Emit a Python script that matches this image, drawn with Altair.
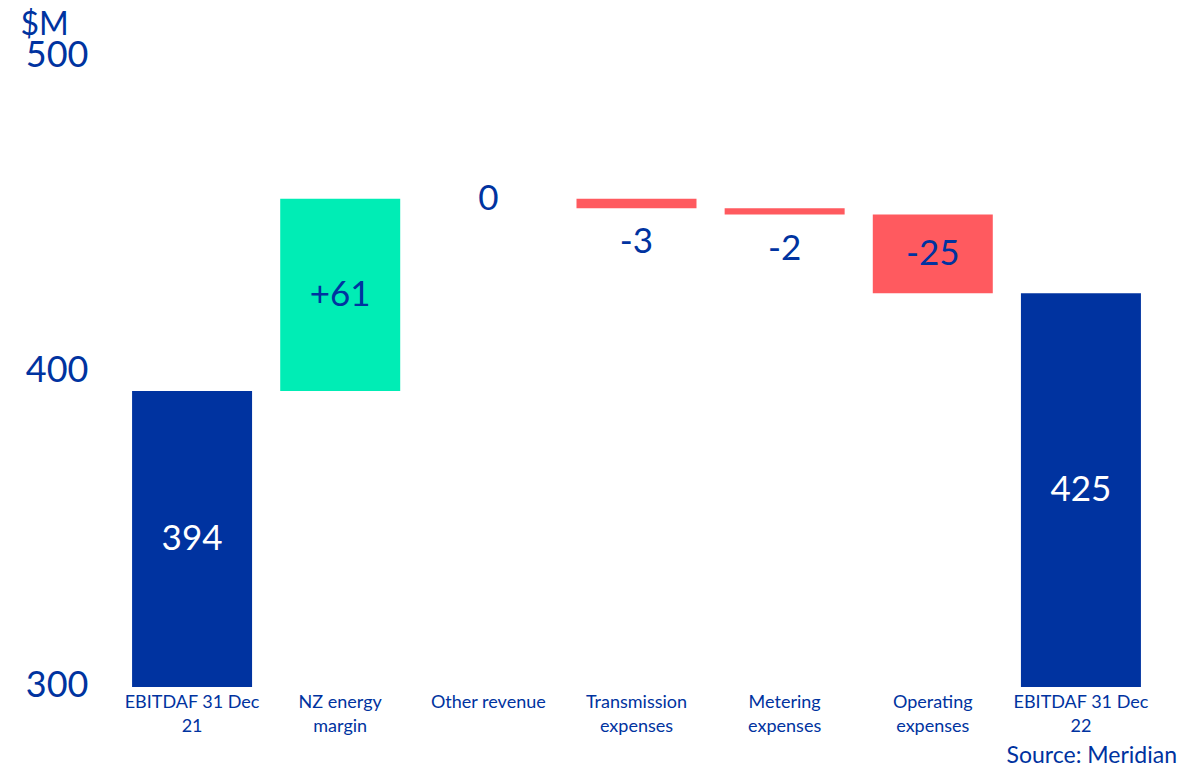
import altair as alt
import pandas as pd

categories = ["EBITDAF 31 Dec\n21", "NZ energy\nmargin", "Other revenue",
              "Transmission\nexpenses", "Metering\nexpenses", "Operating\nexpenses",
              "EBITDAF 31 Dec\n22"]
amounts = [394, 61, 0, -3, -2, -25, 425]
kinds = ["total", "increase", "increase", "decrease", "decrease", "decrease", "total"]
value_labels = ["394", "+61", "0", "-3", "-2", "-25", "425"]
y_ticks = [300, 400, 500]
y_domain = [300, 500]
source_text = ["Source: Meridian"]

NAVY = "#0033A0"
GREEN = "#00EDB5"
RED = "#FF5A5F"
FONT = "Lato"
W, H = 1037, 630

starts, ends = [], []
running = 0
for a, k in zip(amounts, kinds):
    if k == "total":
        starts.append(0)
        ends.append(a)
        running = a
    else:
        starts.append(running)
        running += a
        ends.append(running)

df = pd.DataFrame({
    "category": categories,
    "start": starts,
    "end": ends,
    "kind": kinds,
    "label": value_labels,
    "amount": amounts,
})

yscale = alt.Scale(domain=y_domain, nice=False, zero=False)
xenc = alt.X(
    "category:N", sort=categories,
    scale=alt.Scale(paddingInner=0.19, paddingOuter=0.095),
    axis=alt.Axis(title=None, labelExpr="split(datum.label, '\\n')", labelAngle=0,
                  labelFontSize=18, labelLineHeight=24, labelColor=NAVY, labelFont=FONT,
                  labelPadding=6, domain=False, ticks=False, grid=False),
)
yaxis = alt.Axis(values=y_ticks, title="$M", grid=False, domain=False, ticks=False,
                 labelFontSize=36, labelColor=NAVY, labelFont=FONT, labelPadding=30,
                 labelOffset=-2,
                 titleAngle=0, titleAlign="left", titleBaseline="alphabetic",
                 titleX=-98, titleY=-23, titleFontSize=32, titleColor=NAVY,
                 titleFont=FONT, titleFontWeight="normal")

base = alt.Chart(df).encode(x=xenc)

bars = base.mark_bar(clip=True).encode(
    y=alt.Y("start:Q", scale=yscale, axis=yaxis),
    y2="end:Q",
    color=alt.Color("kind:N", scale=alt.Scale(domain=["total", "increase", "decrease"],
                                              range=[NAVY, GREEN, RED]), legend=None),
)

txt = base.transform_calculate(
    mid=f"(max(datum.start, {y_domain[0]}) + datum.end) / 2",
    low="min(datum.start, datum.end)",
)

inside = txt.transform_filter("abs(datum.amount) >= 10 || datum.amount == 0").mark_text(
    fontSize=35, font=FONT, baseline="middle"
).encode(
    y=alt.Y("mid:Q", scale=yscale, axis=yaxis),
    text="label:N",
    color=alt.Color("kind:N", scale=alt.Scale(domain=["total", "increase", "decrease"],
                                              range=["#FFFFFF", NAVY, NAVY]), legend=None),
)

below = txt.transform_filter("abs(datum.amount) < 10 && datum.amount != 0").mark_text(
    fontSize=35, font=FONT, baseline="middle", dy=34, color=NAVY
).encode(
    y=alt.Y("low:Q", scale=yscale, axis=yaxis),
    text="label:N",
)

source = alt.Chart(pd.DataFrame({"t": source_text})).mark_text(
    fontSize=23, font=FONT, color=NAVY, align="right", baseline="alphabetic"
).encode(
    x=alt.value(W + 22), y=alt.value(H + 76), text="t:N"
)

chart = alt.layer(bars, inside, below, source).resolve_scale(color="independent").properties(
    width=W, height=H,
    autosize=alt.AutoSizeParams(type="none"),
    padding={"left": 110, "top": 49, "right": 28, "bottom": 82},
).configure_view(stroke=None)

chart.save("out.html", embed_options={"renderer": "svg", "actions": False})
